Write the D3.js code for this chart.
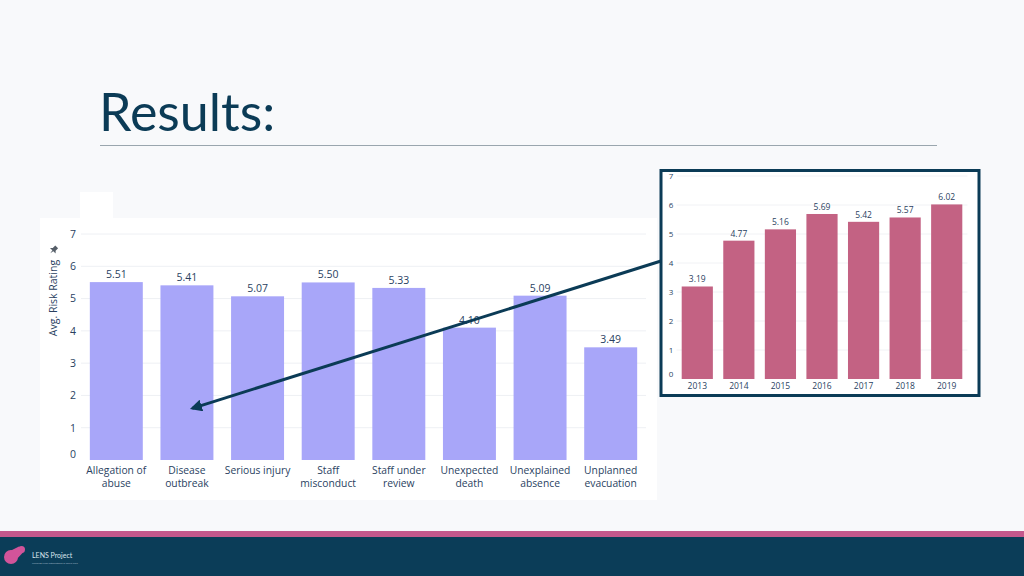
<!DOCTYPE html>
<html>
<head>
<meta charset="utf-8">
<script src="https://cdn.jsdelivr.net/npm/d3@7"></script>
<style>
  html, body { margin: 0; padding: 0; background: #f8f9fb; }
  svg { display: block; }
  .tick text { font-family: 'Open Sans', 'Noto Sans', sans-serif; fill: #2a3f5f; }
</style>
</head>
<body>
<div id="slide"></div>
<script>
// main chart: average risk rating by notification type
const categories = [
  ['Allegation of', 'abuse'],
  ['Disease', 'outbreak'],
  ['Serious injury'],
  ['Staff', 'misconduct'],
  ['Staff under', 'review'],
  ['Unexpected', 'death'],
  ['Unexplained', 'absence'],
  ['Unplanned', 'evacuation']
];
const categoryValues = [5.51, 5.41, 5.07, 5.50, 5.33, 4.10, 5.09, 3.49];

// inset chart: average risk rating by year
const years = ['2013', '2014', '2015', '2016', '2017', '2018', '2019'];
const yearValues = [3.19, 4.77, 5.16, 5.69, 5.42, 5.57, 6.02];

const yTicks = [0, 1, 2, 3, 4, 5, 6, 7];

const width = 1024, height = 576;
const navy = '#0b3b56';
const textColor = '#2a3f5f';

const svg = d3.select('#slide').append('svg')
  .attr('width', width)
  .attr('height', height);

svg.append('rect').attr('width', width).attr('height', height).attr('fill', '#f8f9fb');

// title
svg.append('text')
  .attr('x', 99).attr('y', 131)
  .attr('font-family', 'Lato, sans-serif')
  .attr('font-size', 52)
  .attr('fill', navy)
  .text('Results:');

svg.append('line')
  .attr('x1', 100).attr('x2', 937)
  .attr('y1', 145.5).attr('y2', 145.5)
  .attr('stroke', '#9aa6ae').attr('stroke-width', 1);

// ---------- main chart ----------
svg.append('rect').attr('x', 80).attr('y', 192).attr('width', 33).attr('height', 30).attr('fill', '#fff');
svg.append('rect').attr('x', 40).attr('y', 218).attr('width', 617).attr('height', 282).attr('fill', '#fff');

const main = {left: 81, right: 646, top: 234, bottom: 460};

const xMain = d3.scaleBand()
  .domain(categories.map(d => d.join(' ')))
  .range([main.left, main.right])
  .paddingInner(0.25)
  .paddingOuter(0.125);

const yMain = d3.scaleLinear().domain([0, 7]).range([main.bottom, main.top]);

const gMain = svg.append('g');

gMain.append('g')
  .selectAll('line')
  .data(yTicks.slice(1))
  .join('line')
  .attr('x1', main.left).attr('x2', main.right)
  .attr('y1', d => yMain(d)).attr('y2', d => yMain(d))
  .attr('stroke', '#eef0f4').attr('stroke-width', 1);

const yAxisMain = gMain.append('g')
  .attr('transform', `translate(${main.left - 5},0)`)
  .call(d3.axisLeft(yMain).tickValues(yTicks).tickFormat(d3.format('d')).tickSize(0).tickPadding(0))
  .call(g => g.select('.domain').remove());
yAxisMain.selectAll('text').attr('font-size', 10.5);
yAxisMain.selectAll('.tick').filter(d => d === 0).select('text').attr('dy', '-0.2em');

gMain.append('g')
  .selectAll('rect')
  .data(categoryValues)
  .join('rect')
  .attr('x', (d, i) => xMain(categories[i].join(' ')))
  .attr('y', d => yMain(d))
  .attr('width', xMain.bandwidth())
  .attr('height', d => yMain(0) - yMain(d))
  .attr('fill', '#a8a6f9');

gMain.append('g')
  .selectAll('text')
  .data(categoryValues)
  .join('text')
  .attr('x', (d, i) => xMain(categories[i].join(' ')) + xMain.bandwidth() / 2)
  .attr('y', d => yMain(d) - 4)
  .attr('text-anchor', 'middle')
  .attr('font-family', "'Open Sans', 'Noto Sans', sans-serif")
  .attr('font-size', 10.5)
  .attr('fill', textColor)
  .text(d => d.toFixed(2));

const xLabels = gMain.append('g')
  .selectAll('text')
  .data(categories)
  .join('text')
  .attr('x', d => xMain(d.join(' ')) + xMain.bandwidth() / 2)
  .attr('y', 474)
  .attr('text-anchor', 'middle')
  .attr('font-family', "'Open Sans', 'Noto Sans', sans-serif")
  .attr('font-size', 10.3)
  .attr('fill', textColor);
xLabels.selectAll('tspan')
  .data(d => d)
  .join('tspan')
  .attr('x', function () { return d3.select(this.parentNode).attr('x'); })
  .attr('dy', (d, i) => i === 0 ? 0 : 13)
  .text(d => d);

// y axis title with pin icon
gMain.append('text')
  .attr('transform', 'translate(57,298) rotate(-90)')
  .attr('text-anchor', 'middle')
  .attr('font-family', "'Open Sans', 'Noto Sans', sans-serif")
  .attr('font-size', 10.5)
  .attr('fill', textColor)
  .text('Avg. Risk Rating');

gMain.append('path')
  .attr('transform', 'translate(53.5,250) rotate(45)')
  .attr('d', 'M-2,-4.5 L2,-4.5 L2,-1 L4,1 L-4,1 L-2,-1 Z M-0.6,1 L0.6,1 L0,4.5 Z')
  .attr('fill', '#555e68');

// ---------- inset chart ----------
const inset = {left: 676.5, right: 967.5, top: 176, bottom: 379};

svg.append('rect')
  .attr('x', 661).attr('y', 170.5)
  .attr('width', 318).attr('height', 225)
  .attr('fill', '#fff')
  .attr('stroke', navy).attr('stroke-width', 3);

const xInset = d3.scaleBand()
  .domain(years)
  .range([inset.left, inset.right])
  .paddingInner(0.25)
  .paddingOuter(0.125);

const yInset = d3.scaleLinear().domain([0, 7]).range([inset.bottom, inset.top]);

const gInset = svg.append('g');

gInset.append('g')
  .selectAll('line')
  .data(yTicks.slice(1))
  .join('line')
  .attr('x1', inset.left).attr('x2', inset.right)
  .attr('y1', d => yInset(d)).attr('y2', d => yInset(d))
  .attr('stroke', '#f1f2f5').attr('stroke-width', 1);

const yAxisInset = gInset.append('g')
  .attr('transform', `translate(671,0)`)
  .call(d3.axisLeft(yInset).tickValues(yTicks).tickFormat(d3.format('d')).tickSize(0).tickPadding(0))
  .call(g => g.select('.domain').remove());
yAxisInset.selectAll('text').attr('font-size', 8).attr('text-anchor', 'middle').attr('x', 0);
yAxisInset.selectAll('.tick').filter(d => d === 0).select('text').attr('dy', '-0.3em');

gInset.append('g')
  .selectAll('rect')
  .data(yearValues)
  .join('rect')
  .attr('x', (d, i) => xInset(years[i]))
  .attr('y', d => yInset(d))
  .attr('width', xInset.bandwidth())
  .attr('height', d => yInset(0) - yInset(d))
  .attr('fill', '#c36283');

gInset.append('g')
  .selectAll('text')
  .data(yearValues)
  .join('text')
  .attr('x', (d, i) => xInset(years[i]) + xInset.bandwidth() / 2)
  .attr('y', d => yInset(d) - 4)
  .attr('text-anchor', 'middle')
  .attr('font-family', "'Open Sans', 'Noto Sans', sans-serif")
  .attr('font-size', 8.5)
  .attr('fill', textColor)
  .text(d => d.toFixed(2));

const xAxisInset = gInset.append('g')
  .attr('transform', `translate(0,${inset.bottom})`)
  .call(d3.axisBottom(xInset).tickSize(0).tickPadding(4))
  .call(g => g.select('.domain').remove());
xAxisInset.selectAll('text').attr('font-size', 8.5);

// ---------- arrow from inset to main chart ----------
svg.append('defs').append('marker')
  .attr('id', 'head')
  .attr('viewBox', '0 0 10 10')
  .attr('refX', 8).attr('refY', 5)
  .attr('markerWidth', 4).attr('markerHeight', 4)
  .attr('orient', 'auto')
  .append('path')
  .attr('d', 'M0,0 L10,5 L0,10 Z')
  .attr('fill', navy);

const arrowEnd = [xMain('Disease outbreak') + xMain.bandwidth() * 0.6, yMain(1.6)];
svg.append('line')
  .attr('x1', 661).attr('y1', 261)
  .attr('x2', arrowEnd[0]).attr('y2', arrowEnd[1])
  .attr('stroke', navy).attr('stroke-width', 3)
  .attr('marker-end', 'url(#head)');

// ---------- footer ----------
svg.append('rect').attr('x', 0).attr('y', 531).attr('width', width).attr('height', 6).attr('fill', '#c4588c');
svg.append('rect').attr('x', 0).attr('y', 537).attr('width', width).attr('height', 39).attr('fill', '#0b3d58');

const logo = svg.append('g').attr('fill', '#d2549a');
logo.append('circle').attr('cx', 11).attr('cy', 557).attr('r', 7);
logo.append('circle').attr('cx', 21.5).attr('cy', 549.5).attr('r', 3.5);
logo.append('path').attr('d', 'M8,552 L19,546.5 L23,552.5 L14,562 Z');

svg.append('text')
  .attr('x', 32).attr('y', 558)
  .attr('font-family', 'Lato, sans-serif')
  .attr('font-size', 7)
  .attr('fill', '#d9e4ec')
  .text('LENS Project');

svg.append('text')
  .attr('x', 32).attr('y', 563.5)
  .attr('font-family', 'Lato, sans-serif')
  .attr('font-size', 2.6)
  .attr('fill', '#9fb3c2')
  .text('Learning from notifications in social care');
</script>
</body>
</html>
